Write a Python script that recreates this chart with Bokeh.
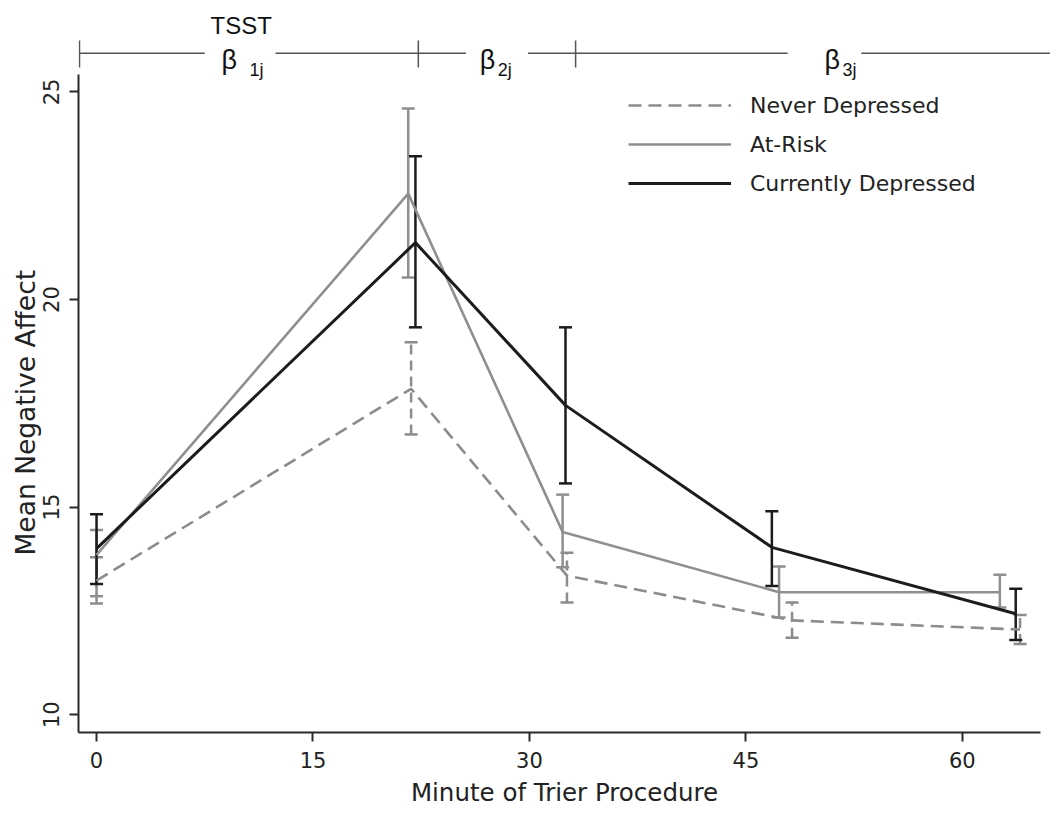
from bokeh.plotting import figure
from bokeh.models import (Range1d, Legend, LegendItem, Whisker, TeeHead,
                          ColumnDataSource, Label, FixedTicker, Title)
from bokeh.embed import file_html
from bokeh.resources import INLINE

# ---------------- data ----------------
groups = ["Never Depressed", "At-Risk", "Currently Depressed"]

never_min = [0, 21.8, 32.6, 48.2, 64.0]
never_mean = [13.23, 17.85, 13.35, 12.27, 12.05]
never_lo = [12.68, 16.75, 12.70, 11.85, 11.70]
never_hi = [13.79, 18.97, 13.90, 12.70, 12.40]

risk_min = [0, 21.6, 32.3, 47.3, 62.6]
risk_mean = [13.85, 22.55, 14.40, 12.95, 12.95]
risk_lo = [12.85, 20.53, 13.55, 12.34, 12.58]
risk_hi = [14.45, 24.60, 15.30, 13.57, 13.37]

dep_min = [0, 22.1, 32.5, 46.8, 63.7]
dep_mean = [14.00, 21.37, 17.45, 14.03, 12.43]
dep_lo = [13.15, 19.33, 15.57, 13.10, 11.80]
dep_hi = [14.83, 23.45, 19.33, 14.90, 13.03]

x_ticks = [0, 15, 30, 45, 60]
y_ticks = [10, 15, 20, 25]
phase_bounds = [22.3, 33.2]          # end of TSST, start of recovery
phase_labels = ["1j", "2j", "3j"]

# ---------------- styling ----------------
FONT = "DejaVu Sans"
C_NEVER = "#8c8c8c"
C_RISK = "#8f8f8f"
C_DEP = "#1c1c1c"
AXIS_C = "#2a2a2a"
TXT_C = "#222222"

x0, x1 = -1.25, 66.11
y0, y1 = 9.57, 27.01
y_axis_top = 25.43

p = figure(width=1050, height=813, x_range=Range1d(x0, x1), y_range=Range1d(y0, y1),
           toolbar_location=None, output_backend="svg",
           min_border_left=78, min_border_right=0, min_border_top=8, min_border_bottom=81)
p.outline_line_color = None
p.grid.visible = False
p.background_fill_color = "white"

for ax in (p.xaxis[0], p.yaxis[0]):
    ax.axis_line_color = AXIS_C
    ax.axis_line_width = 2
    ax.major_tick_line_color = AXIS_C
    ax.major_tick_line_width = 2
    ax.major_tick_in = 0
    ax.major_tick_out = 9
    ax.minor_tick_line_color = None
    ax.major_label_text_font = FONT
    ax.major_label_text_font_size = "21px"
    ax.major_label_text_color = TXT_C
    ax.axis_label_text_font = FONT
    ax.axis_label_text_font_style = "normal"
    ax.axis_label_text_color = TXT_C

p.xaxis.ticker = FixedTicker(ticks=x_ticks)
p.yaxis.ticker = FixedTicker(ticks=y_ticks)
p.xaxis.axis_label = "Minute of Trier Procedure"
p.xaxis.axis_label_text_font_size = "24.5px"
p.xaxis.major_label_standoff = 10
p.xaxis.axis_label_standoff = 7
p.xaxis.bounds = (x0, 65.4)

p.yaxis.major_label_orientation = "vertical"
p.yaxis.major_label_standoff = 10
p.yaxis.bounds = (y0, y_axis_top)

# y-axis title, placed along the axis' own extent (not the bracket area above)
p.add_layout(Title(text="Mean Negative Affect", align="left", offset=177, standoff=0,
                   text_font=FONT, text_font_size="26.5px", text_font_style="normal",
                   text_color=TXT_C), "left")

# ---------------- error bars ----------------
def whiskers(xs, lo, hi, color, dash):
    src = ColumnDataSource(dict(x=xs, lo=lo, hi=hi))
    w = Whisker(source=src, base="x", lower="lo", upper="hi", dimension="height",
                line_color=color, line_width=2.5, line_dash=dash,
                upper_head=TeeHead(size=13, line_color=color, line_width=2.5),
                lower_head=TeeHead(size=13, line_color=color, line_width=2.5))
    p.add_layout(w)

whiskers(never_min, never_lo, never_hi, C_NEVER, "10 6")
whiskers(risk_min, risk_lo, risk_hi, C_RISK, "solid")
whiskers(dep_min, dep_lo, dep_hi, C_DEP, "solid")

# ---------------- lines ----------------
r_never = p.line(never_min, never_mean, line_color=C_NEVER, line_width=2.6, line_dash="13 7")
r_risk = p.line(risk_min, risk_mean, line_color=C_RISK, line_width=2.6)
r_dep = p.line(dep_min, dep_mean, line_color=C_DEP, line_width=3)

legend = Legend(items=[LegendItem(label=groups[0], renderers=[r_never]),
                       LegendItem(label=groups[1], renderers=[r_risk]),
                       LegendItem(label=groups[2], renderers=[r_dep])],
                location=(550, 534), orientation="vertical",
                glyph_width=103, glyph_height=30, label_height=30, spacing=9,
                padding=0, margin=0, label_standoff=19,
                label_text_font=FONT, label_text_font_size="22px",
                label_text_color=TXT_C,
                border_line_color=None, background_fill_alpha=0)
p.add_layout(legend)

# ---------------- phase bracket on top ----------------
BR_C = "#555555"
br_y = 25.93
tick_lo, tick_hi = 25.59, 26.24
gaps = [(7.5, 12.4), (25.6, 29.9), (47.9, 53.0)]
starts = [x0 + 0.05] + [g[1] for g in gaps]
ends = [g[0] for g in gaps] + [x1]
p.segment(x0=starts, y0=[br_y] * len(starts), x1=ends, y1=[br_y] * len(ends),
          line_color=BR_C, line_width=1.5)
tick_x = [x0 + 0.07] + phase_bounds
p.segment(x0=tick_x, y0=[tick_lo] * 3, x1=tick_x, y1=[tick_hi] * 3,
          line_color=BR_C, line_width=1.5)

beta_x = [8.66, 26.55, 50.45]
sub_x = [10.6, 27.8, 51.7]
for bx, sx, s in zip(beta_x, sub_x, phase_labels):
    p.add_layout(Label(x=bx, y=25.76, text="β", text_font="Liberation Sans",
                       text_font_size="27px", text_color="#111111",
                       text_baseline="alphabetic", text_align="left"))
    p.add_layout(Label(x=sx, y=25.53, text=s, text_font="Liberation Sans",
                       text_font_size="18px", text_color="#111111",
                       text_baseline="alphabetic", text_align="left"))

p.add_layout(Label(x=(x0 + phase_bounds[0]) / 2 - 0.5, y=26.6, text="TSST",
                   text_font="Liberation Sans", text_font_size="24px",
                   text_color="#111111", text_baseline="middle", text_align="center"))

open("out.html", "w").write(file_html(p, INLINE))
